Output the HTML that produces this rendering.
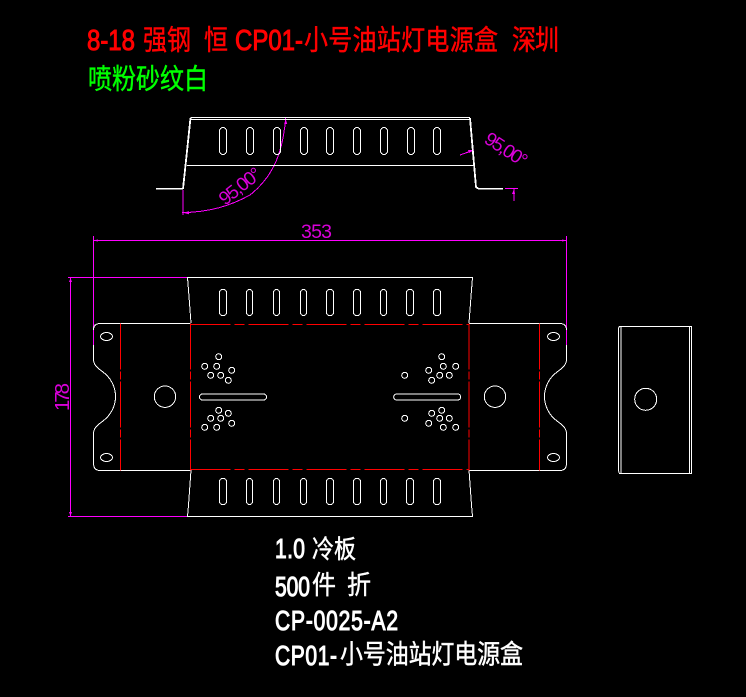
<!DOCTYPE html>
<html><head><meta charset="utf-8"><style>
html,body{margin:0;padding:0;background:#000;width:746px;height:697px;overflow:hidden}
svg{display:block}
.l{font-family:"Liberation Sans",sans-serif;font-weight:normal;stroke-width:.85}
.c{font-family:"Noto Sans CJK SC","WenQuanYi Zen Hei",sans-serif;stroke-width:.4}
.d{font-family:"Liberation Sans",sans-serif;font-weight:normal;fill:#f0f;fill-opacity:.85}
</style></head><body>
<svg width="746" height="697" viewBox="0 0 746 697" xmlns="http://www.w3.org/2000/svg">
<rect width="746" height="697" fill="#000"/>
<!-- titles -->
<g fill="#f00" stroke="#f00" font-size="24">
<text class="l" transform="translate(87,50) scale(1,1.2)" textLength="48">8-18</text>
<text class="c" transform="translate(143,49.500) scale(1,1.15)" textLength="48">强钢</text>
<text class="c" transform="translate(204,49.500) scale(1,1.15)">恒</text>
<text class="l" transform="translate(235,50) scale(1,1.2)" textLength="68">CP01-</text>
<text class="c" transform="translate(304,49.500) scale(1,1.15)" textLength="194">小号油站灯电源盒</text>
<text class="c" transform="translate(512,49.500) scale(1,1.15)" textLength="47">深圳</text>
</g>
<text class="c" fill="#0f0" stroke="#0f0" font-size="24" transform="translate(88,88.500) scale(1,1.15)" textLength="120">喷粉砂纹白</text>
<g fill="#fff" stroke="#fff" font-size="21">
<text class="l" transform="translate(275,558) scale(1,1.3)" textLength="30">1.0</text>
<text class="c" font-size="22" transform="translate(312,558) scale(1,1.15)" textLength="44">冷板</text>
<text class="l" transform="translate(275,596) scale(1,1.3)" textLength="35">500</text>
<text class="c" font-size="24" transform="translate(312,594) scale(1,1.1)">件</text>
<text class="c" font-size="24" transform="translate(347,594) scale(1,1.1)">折</text>
<text class="l" transform="translate(275,630) scale(1,1.3)" textLength="123">CP-0025-A2</text>
<text class="l" transform="translate(275,665) scale(1,1.3)" textLength="62">CP01-</text>
<text class="c" font-size="23" transform="translate(340,663.500) scale(1,1.15)" textLength="183">小号油站灯电源盒</text>
</g>
<!-- magenta -->
<g fill="none" stroke="#f0f" stroke-width="1" shape-rendering="crispEdges">
<path d="M93.500 236V345M566.500 236V345"/>
<path d="M93 240.500H567"/>
<path d="M68 277.500H187M68 516.500H187M70.500 277V516"/>
<path d="M285.700 118C283 150 275 175 250 195C230 206 210 212 182 212.700M183 190V215"/>
<path d="M460 155L474 150M505 188.500H518M514 188V201"/>
</g>
<path d="M93 240.500l5-1v2zM567 240.500l-5-1v2zM70.500 278l-1.500 4h3zM70.500 516l-1.500-4h3zM285.700 119l-1.500 5h3zM183 212.700l6-1.500v3zM474 150l-6 0 1 3zM514 189l-2 5h3z" fill="#f0f"/>
<text class="d" font-size="19.500" x="301" y="238" textLength="31">353</text>
<text class="d" font-size="20.500" transform="translate(69,411) rotate(-90)" textLength="28">178</text>
<text class="d" font-size="19" transform="translate(225,206) rotate(-38)" textLength="48">95,00°</text>
<text class="d" font-size="19" transform="translate(483,142) rotate(33)" textLength="47">95,00°</text>
<!-- white geometry -->
<g fill="none" stroke="#fff" stroke-width="1" shape-rendering="crispEdges">
<path d="M190.500 117.500H470M190 119.500H470"/>
<path d="M190.500 118L183 189" stroke-width="1.800"/>
<path d="M470 118L476 187L478 188.500" stroke-width="1.800"/>
<path d="M187 165.500H473"/>
<path d="M156 188.500H183M478 188.500H503" stroke-width="1.500"/>
<!-- top view slots -->
<g>
<rect x="219.500" y="127.500" width="7" height="27" rx="3.500"/><rect x="246.500" y="127.500" width="7" height="27" rx="3.500"/><rect x="273.500" y="127.500" width="7" height="27" rx="3.500"/><rect x="300.500" y="127.500" width="7" height="27" rx="3.500"/><rect x="326.500" y="127.500" width="7" height="27" rx="3.500"/><rect x="353.500" y="127.500" width="7" height="27" rx="3.500"/><rect x="380.500" y="127.500" width="7" height="27" rx="3.500"/><rect x="407.500" y="127.500" width="7" height="27" rx="3.500"/><rect x="433.500" y="127.500" width="7" height="27" rx="3.500"/>
</g>
<!-- flaps -->
<path d="M191 323L188.500 290L187.500 277.500H472.500L471.500 290L469 323"/>
<path d="M191 470L188.500 505L187.500 516.500H472.500L471.500 505L469 470"/>
<g>
<rect x="219.500" y="289.500" width="7" height="26" rx="3"/><rect x="246.500" y="289.500" width="6" height="26" rx="3"/><rect x="273.500" y="289.500" width="6" height="26" rx="3"/><rect x="300.500" y="289.500" width="6" height="26" rx="3"/><rect x="326.500" y="289.500" width="7" height="26" rx="3"/><rect x="353.500" y="289.500" width="7" height="26" rx="3"/><rect x="380.500" y="289.500" width="6" height="26" rx="3"/><rect x="406.500" y="289.500" width="7" height="26" rx="3"/><rect x="433.500" y="289.500" width="7" height="26" rx="3"/>
<rect x="219.500" y="478.500" width="7" height="26" rx="3"/><rect x="246.500" y="478.500" width="6" height="26" rx="3"/><rect x="273.500" y="478.500" width="6" height="26" rx="3"/><rect x="300.500" y="478.500" width="6" height="26" rx="3"/><rect x="326.500" y="478.500" width="7" height="26" rx="3"/><rect x="353.500" y="478.500" width="7" height="26" rx="3"/><rect x="380.500" y="478.500" width="6" height="26" rx="3"/><rect x="406.500" y="478.500" width="7" height="26" rx="3"/><rect x="433.500" y="478.500" width="7" height="26" rx="3"/>
</g>
<!-- left tab -->
<path d="M190.500 323.500H100Q93.500 323.500 93.500 330V360C94 366 99 369 103 372C111 378 115.500 387 115.500 396.500C115.500 406 111 415 103 421C99 424 94 427 93.500 433V463Q93.500 470.500 100 470.500H190.500"/>
<!-- right tab -->
<path d="M469 323.500H560Q566.500 323.500 566.500 330V360C566 366 561 369 557 372C549 378 544.500 387 544.500 396.500C544.500 406 549 415 557 421C561 424 566 427 566.500 433V463Q566.500 470.500 560 470.500H469"/>
<ellipse cx="106.500" cy="336.500" rx="6" ry="4"/><ellipse cx="106.500" cy="457.500" rx="6" ry="4"/>
<ellipse cx="553.500" cy="336.500" rx="6" ry="4"/><ellipse cx="553.500" cy="457.500" rx="6" ry="4"/>
<circle cx="165" cy="396.700" r="10.700"/><circle cx="495" cy="396.700" r="10.700"/>
<rect x="199.500" y="394" width="67" height="6" rx="3"/>
<rect x="393.700" y="394" width="67" height="6" rx="3"/>
<!-- small holes -->
<g>
<circle cx="218.700" cy="356.700" r="3"/><circle cx="204.700" cy="366.300" r="3"/><circle cx="216.700" cy="366.300" r="3"/><circle cx="231.700" cy="370.300" r="3"/><circle cx="210.700" cy="375.300" r="3"/><circle cx="220.700" cy="375.300" r="3"/><circle cx="228.300" cy="380.300" r="3"/>
<circle cx="218.700" cy="410.300" r="3"/><circle cx="228.300" cy="413.300" r="3"/><circle cx="210.700" cy="418.300" r="3"/><circle cx="220.700" cy="418.300" r="3"/><circle cx="231.700" cy="423.300" r="3"/><circle cx="204.700" cy="427.300" r="3"/><circle cx="216.700" cy="427.300" r="3"/>
<circle cx="441.700" cy="356.700" r="3"/><circle cx="428.700" cy="370.300" r="3"/><circle cx="443.300" cy="366.300" r="3"/><circle cx="455.700" cy="366.300" r="3"/><circle cx="439.700" cy="375.300" r="3"/><circle cx="449.300" cy="375.300" r="3"/><circle cx="431.700" cy="380.300" r="3"/><circle cx="404.700" cy="375.300" r="3"/>
<circle cx="441.700" cy="410.300" r="3"/><circle cx="431.700" cy="413.300" r="3"/><circle cx="439.700" cy="418.300" r="3"/><circle cx="449.300" cy="418.300" r="3"/><circle cx="428.700" cy="423.300" r="3"/><circle cx="443.300" cy="427.300" r="3"/><circle cx="455.700" cy="427.300" r="3"/><circle cx="404.700" cy="418.300" r="3"/>
</g>
<!-- side view -->
<path d="M619.500 326.500H691.500V473.500H619.500L618.500 471V328Z"/>
<path d="M621 326.500V473.500M689.500 326.500V473.500"/>
<circle cx="645.700" cy="399.300" r="11"/>
</g>
<path d="M93.500 345V330M566.500 345V330" stroke="#f0f" stroke-width="1" shape-rendering="crispEdges"/>
<!-- red fold lines -->
<g fill="none" stroke="#f00" stroke-width="1" shape-rendering="crispEdges">
<path d="M190.500 324.500H469M190.500 469.500H469" stroke-dasharray="40 4 10 4"/>
<path d="M120.500 323.500V470.500M190.500 323.500V470.500M469 323.500V470.500M539.500 323.500V470.500" stroke-dasharray="46 2 8 2"/>
</g>
</svg>
</body></html>
